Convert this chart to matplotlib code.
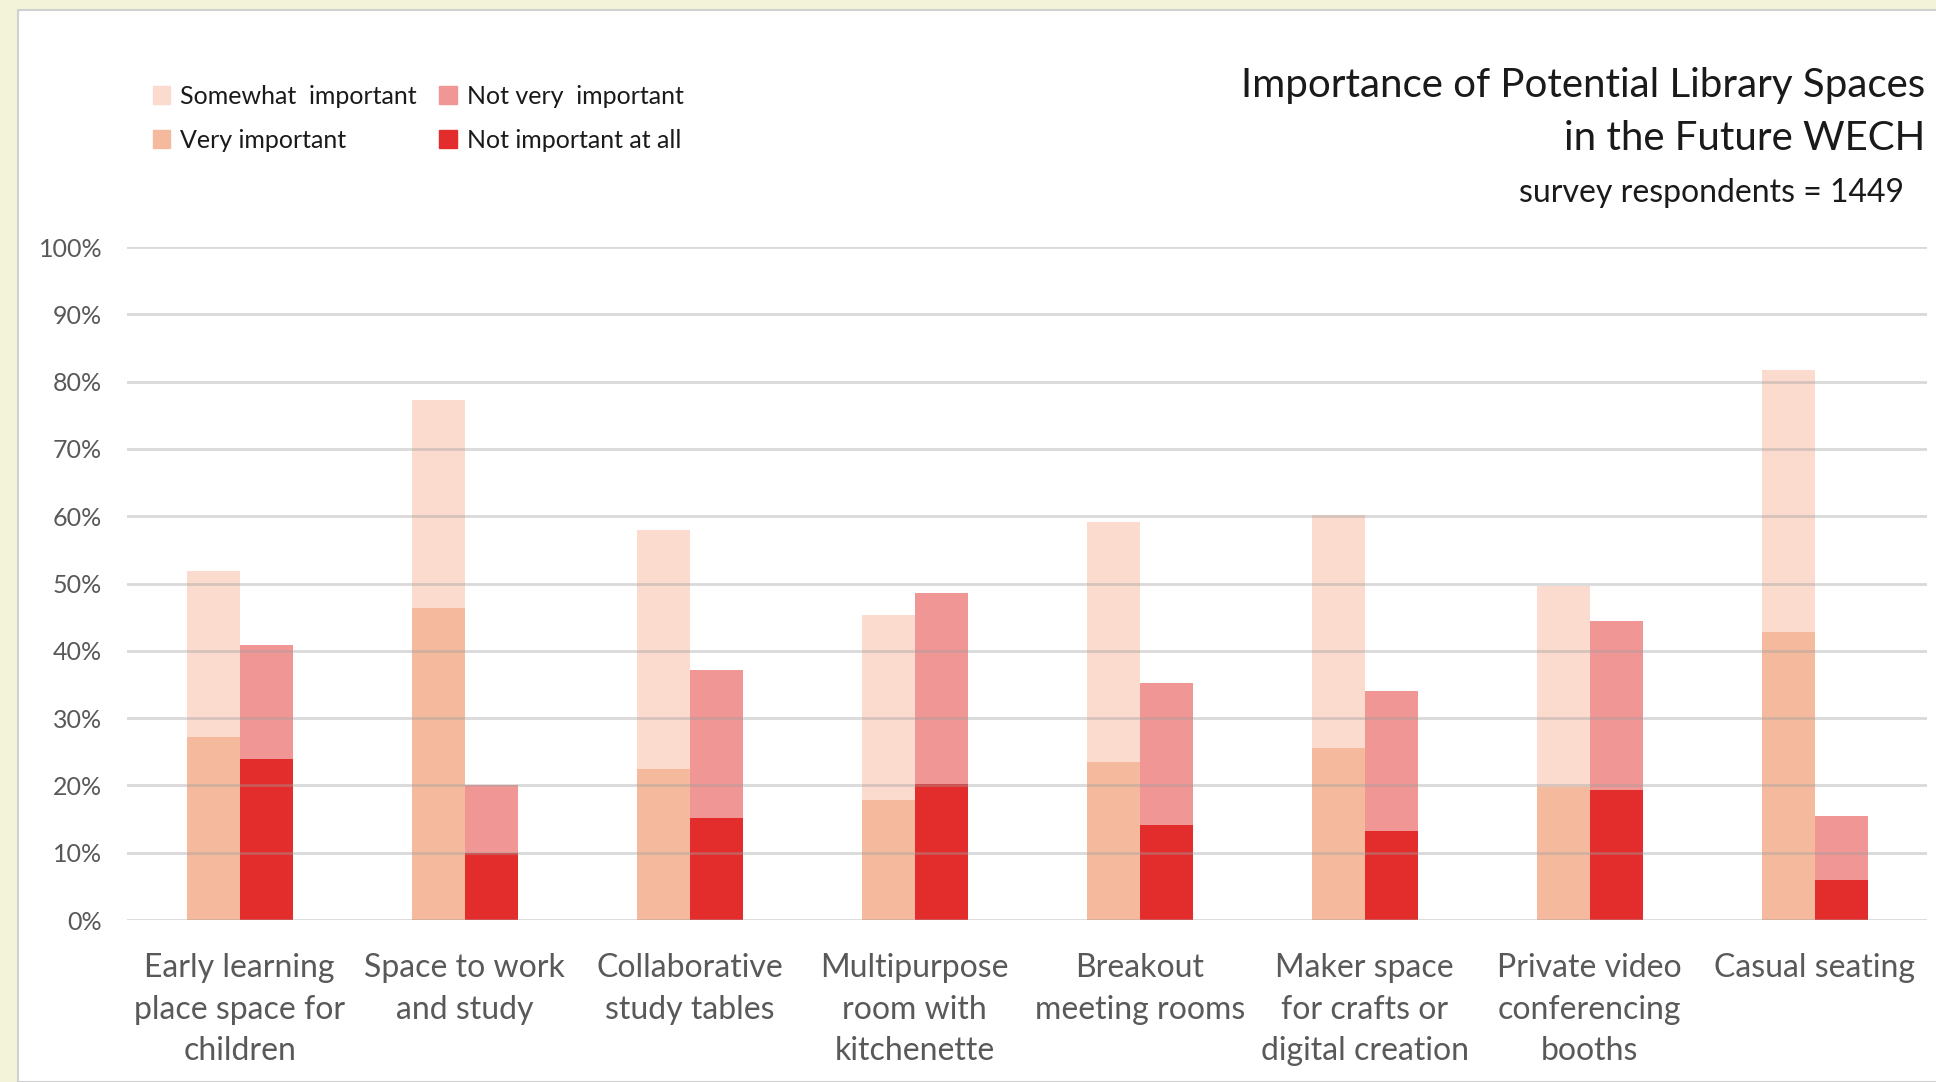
import matplotlib.pyplot as plt
from matplotlib.patches import Rectangle
import numpy as np

categories = [
    "Early learning\nplace space for\nchildren",
    "Space to work\nand study",
    "Collaborative\nstudy tables",
    "Multipurpose\nroom with\nkitchenette",
    "Breakout\nmeeting rooms",
    "Maker space\nfor crafts or\ndigital creation",
    "Private video\nconferencing\nbooths",
    "Casual seating",
]
# shares of respondents (%)
very_important = [27.2, 46.4, 22.4, 17.8, 23.5, 25.5, 19.8, 42.8]
somewhat_important = [24.7, 30.8, 35.6, 27.5, 35.6, 34.7, 29.9, 39.0]
not_important_at_all = [23.9, 9.9, 15.2, 20.2, 14.1, 13.2, 19.3, 5.9]
not_very_important = [17.0, 10.1, 22.0, 28.4, 21.1, 20.9, 25.1, 9.5]

c_somewhat = "#FADBCD"
c_very = "#F5BA9D"
c_notvery = "#F09694"
c_notatall = "#E32D2D"

plt.rcParams["font.family"] = ["Lato", "DejaVu Sans"]

fig = plt.figure(figsize=(19.36, 10.82), dpi=100)
fig.patch.set_facecolor("#F3F3DA")
# white chart panel
fig.patches.append(Rectangle((18 / 1936, 0), 1, 1 - 10 / 1082, transform=fig.transFigure,
                             facecolor="white", edgecolor="#D0D0D0", linewidth=1.5, zorder=-10))

ax = fig.add_axes([0.0657, 0.1497, 0.9298, 0.622])
ax.set_facecolor("none")

x = np.arange(len(categories))
w = 0.236
ax.bar(x - w / 2, very_important, w, color=c_very, zorder=2)
ax.bar(x - w / 2, somewhat_important, w, bottom=very_important, color=c_somewhat, zorder=2)
ax.bar(x + w / 2, not_important_at_all, w, color=c_notatall, zorder=2)
ax.bar(x + w / 2, not_very_important, w, bottom=not_important_at_all, color=c_notvery, zorder=2)

ax.set_ylim(0, 100)
ax.set_xlim(-0.5, len(categories) - 0.5)
ax.set_yticks(np.arange(0, 101, 10))
ax.set_yticklabels([f"{v}%" for v in range(0, 101, 10)])
ax.yaxis.grid(True, color="#A0A0A0", alpha=0.4, linewidth=2, zorder=3)
ax.set_axisbelow(False)
for s in ax.spines.values():
    s.set_visible(False)
ax.tick_params(axis="both", length=0, colors="#595959")
ax.tick_params(axis="y", labelsize=18, pad=18)
ax.set_xticks(x)
ax.set_xticklabels(categories, fontsize=23, color="#595959", linespacing=1.48)
ax.tick_params(axis="x", pad=24)

fig.text(1925 / 1936, 1 - 112 / 1082, "Importance of Potential Library Spaces\nin the Future WECH",
         ha="right", va="center", fontsize=29, color="#1a1a1a", linespacing=1.5)
fig.text(1904 / 1936, 1 - 193 / 1082, "survey respondents = 1449",
         ha="right", va="center", fontsize=23, color="#1a1a1a")

handles = [Rectangle((0, 0), 1, 1, color=c) for c in (c_somewhat, c_very, c_notvery, c_notatall)]
labels = ["Somewhat  important", "Very important", "Not very  important", "Not important at all"]
fig.legend(handles, labels, ncol=2, loc="upper left", bbox_to_anchor=(130 / 1936, 1 - 62 / 1082),
           frameon=False, fontsize=18, handlelength=0.7, handleheight=0.7, handletextpad=0.4,
           columnspacing=0.9, labelspacing=0.85, labelcolor="#1a1a1a")

fig.savefig("out.png", dpi=100)
